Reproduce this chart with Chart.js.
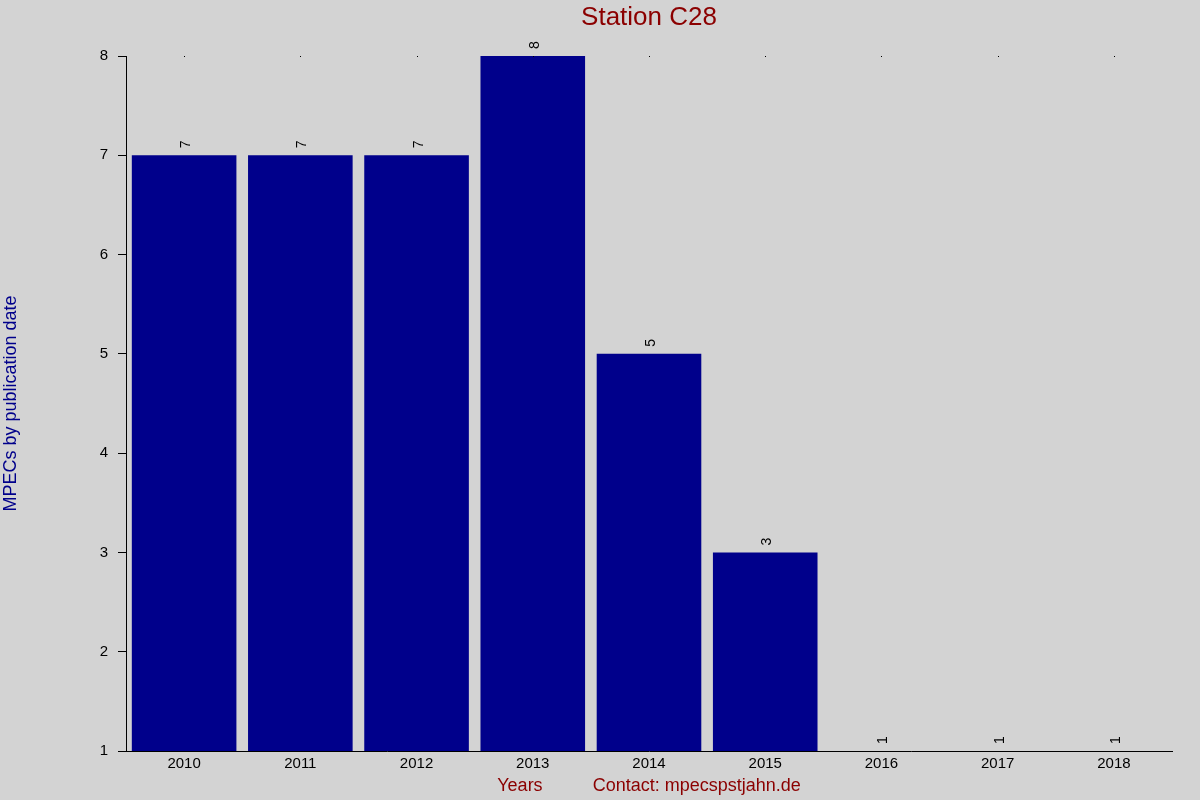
<!DOCTYPE html>
<html>
<head>
<meta charset="utf-8">
<script src="https://cdn.jsdelivr.net/npm/chart.js@4/dist/chart.umd.min.js"></script>
<style>
  html, body { margin: 0; padding: 0; background: #d3d3d3; }
  canvas { display: block; }
</style>
</head>
<body>
<canvas id="chartStation" width="1200" height="800"></canvas>
<script>
// datos del grafico
const years = ['2010', '2011', '2012', '2013', '2014', '2015', '2016', '2017', '2018'];
const mpecCounts = [7, 7, 7, 8, 5, 3, 1, 1, 1];
const yMin = 1;
const yMax = 8;
const chartTitle = 'Station C28';

const fontFamily = '"Liberation Sans", Arial, sans-serif';

// titulo centrado sobre el area del grafico
const centeredTitle = {
    id: 'centeredTitle',
    afterDraw(chart) {
        const ctx = chart.ctx;
        const area = chart.chartArea;
        ctx.save();
        ctx.fillStyle = '#8b0000';
        ctx.font = '26px ' + fontFamily;
        ctx.textAlign = 'center';
        ctx.textBaseline = 'middle';
        ctx.fillText(chartTitle, (area.left + area.right) / 2, 18);
        ctx.restore();
    }
};

// etiquetas giradas encima de cada barra
const barLabels = {
    id: 'barLabels',
    afterDatasetsDraw(chart) {
        const ctx = chart.ctx;
        const meta = chart.getDatasetMeta(0);
        ctx.save();
        ctx.fillStyle = '#000000';
        ctx.font = '14px ' + fontFamily;
        ctx.textAlign = 'left';
        ctx.textBaseline = 'alphabetic';
        meta.data.forEach(function (bar, i) {
            const top = Math.min(bar.y, chart.chartArea.bottom);
            ctx.save();
            ctx.translate(bar.x + 6, top - 7);
            ctx.rotate(-Math.PI / 2);
            ctx.fillText(String(mpecCounts[i]), 0, 0);
            ctx.restore();
        });
        ctx.restore();
    }
};

// puntitos arriba en cada categoria
const topDots = {
    id: 'topDots',
    afterDraw(chart) {
        const ctx = chart.ctx;
        const xs = chart.scales.x;
        const y = Math.round(chart.scales.y.getPixelForValue(yMax));
        ctx.save();
        ctx.fillStyle = '#000000';
        years.forEach(function (_, i) {
            ctx.fillRect(Math.round(xs.getPixelForValue(i)), y, 1, 1);
        });
        ctx.restore();
    }
};

try {
    const chartElement = document.getElementById('chartStation');
    new Chart(chartElement, {
        type: 'bar',
        data: {
            labels: years,
            datasets: [{
                label: 'MPECs',
                data: mpecCounts,
                backgroundColor: '#00008b',
                borderWidth: 0,
                barPercentage: 0.9,
                categoryPercentage: 1.0
            }]
        },
        options: {
            responsive: false,
            animation: false,
            devicePixelRatio: 1,
            layout: { padding: { left: 0, right: 28, top: 56, bottom: 0 } },
            plugins: {
                legend: { display: false },
                tooltip: { enabled: false },
                title: { display: false }
            },
            scales: {
                x: {
                    grid: { display: false, drawTicks: false },
                    border: { display: true, color: '#000000', width: 1 },
                    ticks: {
                        color: '#000000',
                        padding: 4,
                        font: { family: fontFamily, size: 15 }
                    },
                    title: {
                        display: true,
                        text: 'Years          Contact: mpecspstjahn.de',
                        color: '#8b0000',
                        font: { family: fontFamily, size: 18 },
                        padding: { top: 3, bottom: 3 }
                    },
                    afterFit: function (scale) { scale.height = 49; }
                },
                y: {
                    min: yMin,
                    max: yMax,
                    grid: {
                        drawOnChartArea: false,
                        drawTicks: true,
                        tickLength: 8,
                        color: '#000000'
                    },
                    border: { display: true, color: '#000000', width: 1 },
                    ticks: {
                        stepSize: 1,
                        color: '#000000',
                        padding: 10,
                        font: { family: fontFamily, size: 15 }
                    },
                    title: {
                        display: true,
                        text: 'MPECs by publication date',
                        color: '#00008b',
                        font: { family: fontFamily, size: 18 },
                        padding: { top: 0, bottom: 0 }
                    },
                    afterFit: function (scale) { scale.width = 126; }
                }
            }
        },
        plugins: [barLabels, topDots, centeredTitle]
    });
} catch (error) {
    console.error('Error al crear la grafica:', error);
}
</script>
</body>
</html>
